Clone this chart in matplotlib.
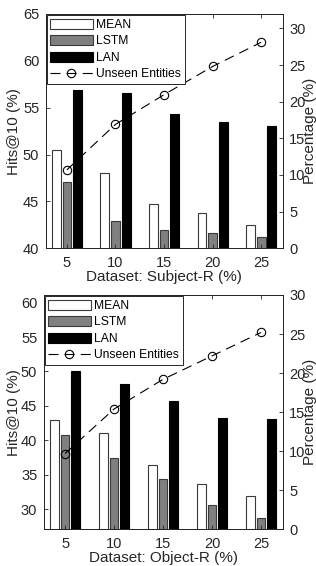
import numpy as np
import matplotlib
matplotlib.use("Agg")
import matplotlib.pyplot as plt
from matplotlib.patches import Patch
from matplotlib.lines import Line2D

plt.rcParams['font.family'] = ['Liberation Sans', 'DejaVu Sans']

# data
ratios = ['5', '10', '15', '20', '25']
subj_mean = [50.5, 48.0, 44.7, 43.8, 42.5]
subj_lstm = [47.1, 42.9, 42.0, 41.6, 41.25]
subj_lan = [56.85, 56.6, 54.3, 53.5, 53.1]
subj_unseen = [10.7, 16.9, 20.95, 24.8, 28.1]

obj_mean = [42.9, 41.1, 36.5, 33.7, 31.9]
obj_lstm = [40.8, 37.4, 34.4, 30.6, 28.8]
obj_lan = [50.0, 48.2, 45.7, 43.2, 43.1]
obj_unseen = [9.7, 15.4, 19.2, 22.2, 25.2]

spine_col = '#262626'
edge_col = '#3a3a3a'
lstm_col = '#808080'


def draw_panel(fig, rect, mean, lstm, lan, unseen, ylim, yticks, y2lim, xlabel, ylab_x):
    ax = fig.add_axes(rect)
    x = np.arange(1, len(ratios) + 1)
    w = 0.18
    off = 0.22
    ax.bar(x - off, mean, w, color='white', edgecolor=edge_col, linewidth=0.8)
    ax.bar(x, lstm, w, color=lstm_col, edgecolor=edge_col, linewidth=0.8)
    ax.bar(x + off, lan, w, color='black', edgecolor='black', linewidth=0.8)
    ax.set_ylim(*ylim)
    ax.set_yticks(yticks)
    ax.set_xlim(0.56, 5.45)
    ax.set_xticks(x)
    ax.set_xticklabels(ratios)
    ax.tick_params(axis='both', direction='in', length=3, width=0.6,
                   labelsize=10.5, colors=spine_col, top=True, right=False)
    ax.tick_params(axis='x', pad=5.5)
    ax.tick_params(axis='y', pad=4.5)
    ax.set_ylabel('Hits@10 (%)', fontsize=11, color=spine_col)
    ax.yaxis.set_label_coords(ylab_x, 0.5)
    ax.set_xlabel(xlabel, fontsize=11, color=spine_col, labelpad=0)
    for s in ax.spines.values():
        s.set_color(spine_col)
        s.set_linewidth(0.7)

    ax2 = ax.twinx()
    ax2.plot(x, unseen, color='black', linewidth=0.8, linestyle=(0, (9, 5.5)),
             marker='o', markersize=6, markerfacecolor='none',
             markeredgecolor='black', markeredgewidth=0.8)
    ax2.set_ylim(*y2lim)
    ax2.set_yticks([0, 5, 10, 15, 20, 25, 30])
    ax2.tick_params(axis='y', direction='in', length=3, width=0.6, pad=4.5,
                    labelsize=10.5, colors=spine_col)
    ax2.set_ylabel('Percentage (%)', fontsize=11, color=spine_col)
    ax2.yaxis.set_label_coords(1.083, 0.5)
    for s in ax2.spines.values():
        s.set_color(spine_col)
        s.set_linewidth(0.7)

    handles = [
        Patch(facecolor='white', edgecolor=edge_col, linewidth=0.8),
        Patch(facecolor=lstm_col, edgecolor=edge_col, linewidth=0.8),
        Patch(facecolor='black', edgecolor='black', linewidth=0.8),
        Line2D([], [], color='black', linewidth=0.8, linestyle=(0, (9, 5.5)),
               marker='o', markersize=6, markerfacecolor='none',
               markeredgecolor='black', markeredgewidth=0.8),
    ]
    leg = ax2.legend(handles, ['MEAN', 'LSTM', 'LAN', 'Unseen Entities'],
                     loc='upper left', fontsize=8.7, frameon=True, fancybox=False,
                     framealpha=1, edgecolor=spine_col, borderaxespad=0.1,
                     handlelength=3.5, handleheight=0.9, labelspacing=0.35,
                     handletextpad=0.3, borderpad=0.3)
    leg.get_frame().set_linewidth(0.7)
    return ax, ax2


fig = plt.figure(figsize=(3.16, 5.66), dpi=100)
draw_panel(fig, [0.144, 0.5613, 0.7516, 0.414], subj_mean, subj_lstm, subj_lan,
           subj_unseen, (40, 65), [40, 45, 50, 55, 60, 65], (0, 31.96),
           'Dataset: Subject-R (%)', -0.104)
draw_panel(fig, [0.1377, 0.0648, 0.758, 0.414], obj_mean, obj_lstm, obj_lan,
           obj_unseen, (27.1, 61.1), [30, 35, 40, 45, 50, 55, 60], (0, 30),
           'Dataset: Object-R (%)', -0.095)

fig.savefig('out.png', dpi=100)
